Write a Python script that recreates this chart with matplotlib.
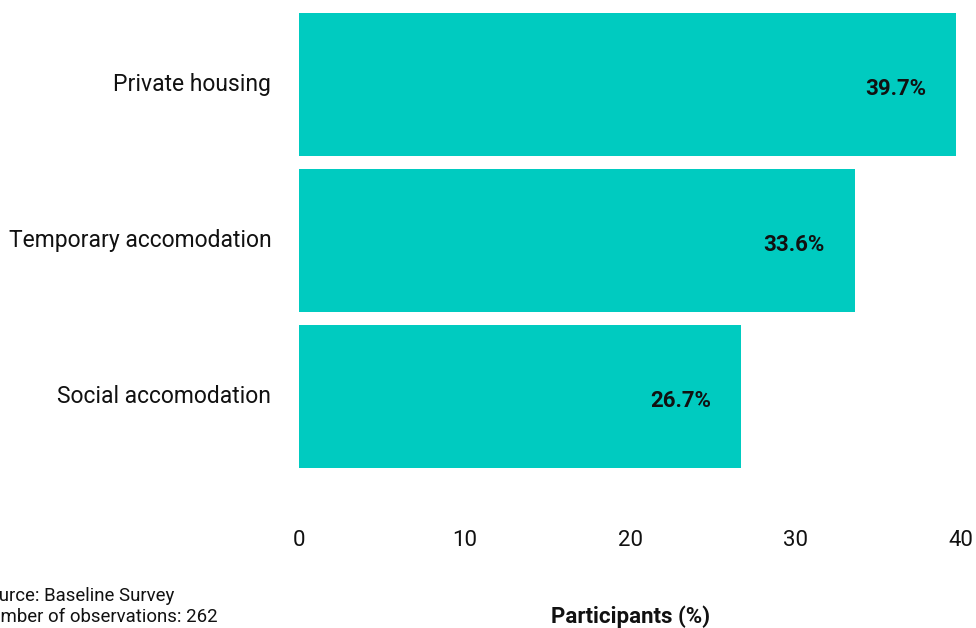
import matplotlib
matplotlib.use("Agg")
import matplotlib.pyplot as plt
from matplotlib.transforms import ScaledTranslation

plt.rcParams['font.family'] = ['Roboto', 'DejaVu Sans']

categories = ["Private housing", "Temporary accomodation", "Social accomodation"]
values = [39.7, 33.6, 26.7]
xticks = [0, 10, 20, 30, 40]
bar_color = "#00CBC0"

fig = plt.figure(figsize=(9.76, 6.28), dpi=100)
W, H = 976, 628
left, right = 299, 961
top, bottom = 13, 520
ax = fig.add_axes([left / W, 1 - bottom / H, (right - left) / W, (bottom - top) / H])

ypos = list(range(len(categories)))
ax.barh(ypos, values, height=0.92, color=bar_color)
ax.set_ylim((bottom - 84.5) / 156, -0.46)
ax.set_xlim(0, 40)

for y, v in zip(ypos, values):
    ax.annotate(f"{v}%", xy=(v, y), xytext=(-30, -4), textcoords="offset pixels",
                ha="right", va="center", fontsize=16, fontweight="bold", color="#111111")

ax.set_yticks(ypos)
ax.set_yticklabels(categories, fontsize=16.5, color="#111111")
ax.set_xticks(xticks)
ax.set_xticklabels([str(t) for t in xticks], fontsize=16, color="#111111")
ax.tick_params(axis="both", length=0)
ax.tick_params(axis="y", pad=20)
ax.tick_params(axis="x", pad=7)
for s in ax.spines.values():
    s.set_visible(False)

# nudge category labels up slightly
shift = ScaledTranslation(0, 3 / 100, fig.dpi_scale_trans)
for lbl in ax.get_yticklabels():
    lbl.set_transform(lbl.get_transform() + shift)

fig.text(631 / W, 1 - 617 / H, "Participants (%)", ha="center", va="center",
         fontsize=16, fontweight="bold", color="#111111")
fig.text(-23 / W, 1 - 596 / H, "Source: Baseline Survey", ha="left", va="center",
         fontsize=13.4, color="#111111")
fig.text(-23 / W, 1 - 617 / H, "Number of observations: 262", ha="left", va="center",
         fontsize=13.4, color="#111111")

fig.savefig("out.png", dpi=100)
